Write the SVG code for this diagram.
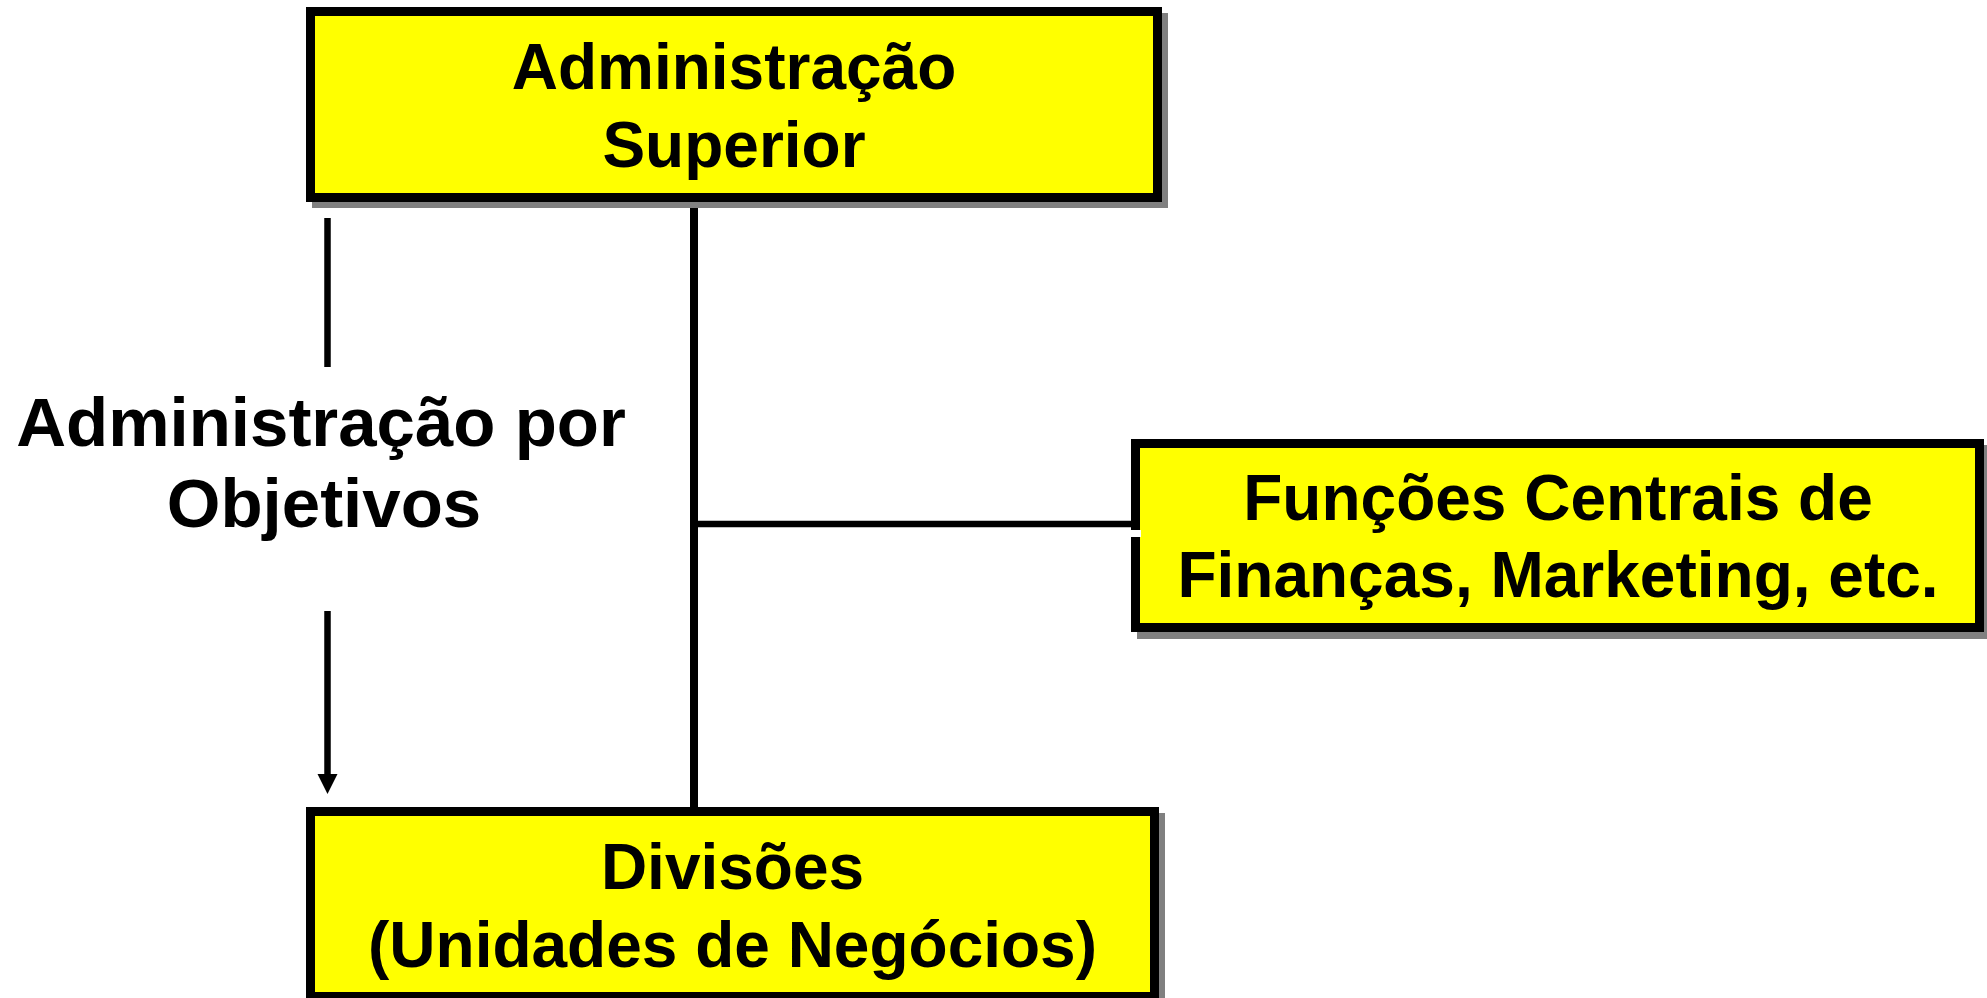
<svg xmlns="http://www.w3.org/2000/svg" width="1987" height="998" viewBox="0 0 1987 998">
<defs>
<style>
.box{fill:#ffff00;stroke:#000;stroke-width:9}
.shadow{fill:#808080}
.t{font-family:"Liberation Sans",Arial,Helvetica,sans-serif;font-weight:bold;font-size:64px;fill:#000;text-anchor:middle}
.lbl{font-size:69px}
.ln{stroke:#000;fill:none}
</style>
</defs>
<rect width="1987" height="998" fill="#fff"/>
<g id="connectors">
<line class="ln" x1="694" y1="202" x2="694" y2="808" stroke-width="8"/>
<line class="ln" x1="698" y1="524" x2="1132" y2="524" stroke-width="6.5"/>
<line class="ln" x1="327.5" y1="218" x2="327.5" y2="367" stroke-width="6.5"/>
<line class="ln" x1="327.5" y1="611" x2="327.5" y2="776" stroke-width="6.5"/>
<polygon points="317.5,774 337.5,774 327.5,794" fill="#000"/>
</g>
<g id="node-admin-superior">
<rect class="shadow" x="312" y="13" width="856" height="195"/>
<rect class="box" x="310.5" y="11.5" width="847" height="186"/>
<text class="t" x="734" y="89">Administração</text>
<text class="t" x="734" y="167">Superior</text>
</g>
<g id="node-funcoes-centrais">
<rect class="shadow" x="1137" y="445" width="856" height="194"/>
<rect class="box" x="1135.5" y="443.5" width="844" height="184"/>
<rect x="1130" y="530" width="11" height="7" fill="#fff"/>
<text class="t" x="1558" y="520">Funções Centrais de</text>
<text class="t" x="1558" y="597">Finanças, Marketing, etc.</text>
</g>
<g id="node-divisoes">
<rect class="shadow" x="312" y="813" width="853" height="195"/>
<rect class="box" x="310.5" y="811.5" width="844" height="185"/>
<text class="t" x="732.5" y="889">Divisões</text>
<text class="t" x="732.5" y="967">(Unidades de Negócios)</text>
</g>
<g id="label-apo">
<text class="t lbl" x="321" y="446">Administração por</text>
<text class="t lbl" x="324" y="527">Objetivos</text>
</g>
</svg>
